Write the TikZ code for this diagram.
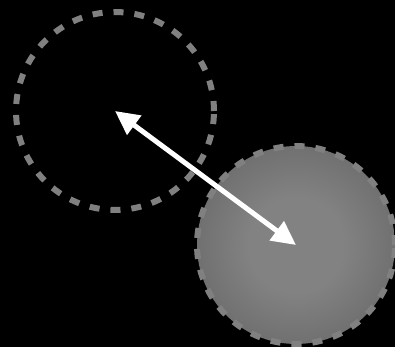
\documentclass[tikz,border=0pt]{standalone}
\usepackage{tikz}
\usetikzlibrary{arrows.meta}
\definecolor{cring}{RGB}{128,128,128}
\definecolor{cballin}{RGB}{130,130,130}
\definecolor{cballout}{RGB}{78,78,78}
\pgfdeclareradialshading{ballshade}{\pgfpoint{0bp}{0bp}}{%
  color(0bp)=(cballin); color(12bp)=(cballin); color(50bp)=(cballout); color(100bp)=(cballout)}
\tikzset{
  ring/.style={circle, draw=cring, line width=0.12cm,
               dash pattern=on 0.2cm off 0.22cm,
               minimum size=3.96cm, inner sep=0pt},
  ball/.style={ring, shading=ballshade},
  dbl/.style={{Triangle[length=0.48cm,width=0.46cm]}-{Triangle[length=0.48cm,width=0.46cm]},
              draw=white, line width=0.1cm},
}
\begin{document}
\begin{tikzpicture}[x=0.02cm,y=-0.02cm]
  % background
  \fill[black] (0,0) rectangle (395,347);
  \useasboundingbox (0,0) rectangle (395,347);

  % circles
  \node[ring] at (115,111) (start) {};
  \node[ball] at (296,245) (target) {};

  % link
  \draw[dbl] (start.center) -- (target.center);
\end{tikzpicture}
\end{document}
